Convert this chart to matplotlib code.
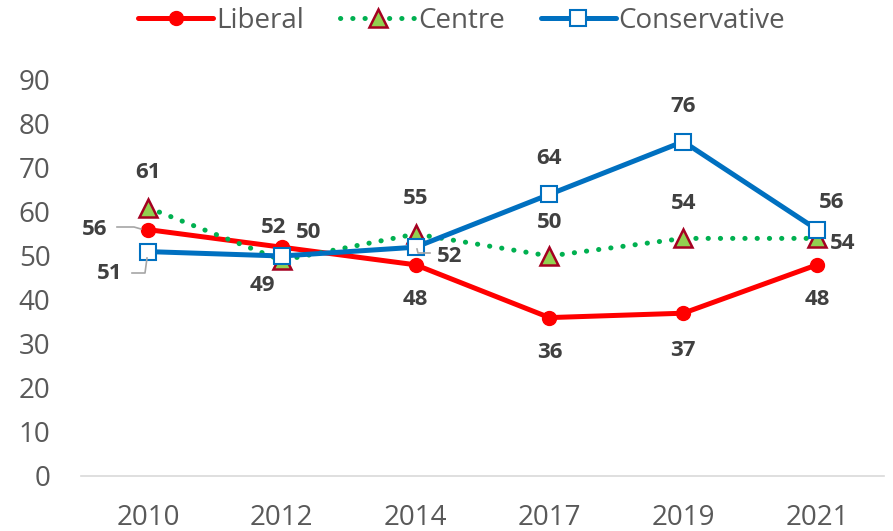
import matplotlib
matplotlib.use("Agg")
import matplotlib.pyplot as plt
from matplotlib.lines import Line2D

years = ["2010", "2012", "2014", "2017", "2019", "2021"]
liberal = [56, 52, 48, 36, 37, 48]
centre = [61, 49, 55, 50, 54, 54]
conservative = [51, 50, 52, 64, 76, 56]
yticks = [0, 10, 20, 30, 40, 50, 60, 70, 80, 90]

plt.rcParams['font.family'] = ['Open Sans', 'DejaVu Sans']

fig = plt.figure(figsize=(8.93, 5.31), dpi=100)
ax = fig.add_axes([81/893, 55/531, 803/893, 396/531])
x = list(range(len(years)))

RED = '#ff0000'
GREEN = '#00b050'
BLUE = '#0070c0'

l1, = ax.plot(x, liberal, color=RED, lw=3.6, marker='o', markersize=10,
              markerfacecolor=RED, markeredgecolor=RED, zorder=3,
              solid_capstyle='round')
l2, = ax.plot(x, centre, color=GREEN, lw=3.6, linestyle=(0, (0.05, 2.4)),
              dash_capstyle='round', marker='^', markersize=13,
              markerfacecolor='#92d050', markeredgecolor='#a50021',
              markeredgewidth=1.8, zorder=4)
l3, = ax.plot(x, conservative, color=BLUE, lw=3.6, marker='s', markersize=11,
              markerfacecolor='white', markeredgecolor=BLUE,
              markeredgewidth=1.5, zorder=5, solid_capstyle='round')

ax.set_xlim(-0.5, 5.5)
ax.set_ylim(0, 90)
ax.set_yticks(yticks)
ax.set_xticks(x)
ax.set_xticklabels(years)
ax.tick_params(length=0, labelsize=20, colors='#595959')
ax.tick_params(axis='x', pad=20)
ax.tick_params(axis='y', pad=22)
for s in ['left', 'right', 'top']:
    ax.spines[s].set_visible(False)
ax.spines['bottom'].set_color('#d9d9d9')
ax.spines['bottom'].set_linewidth(1.2)

lab_style = dict(fontsize=16, fontweight='bold', color='#404040',
                 ha='center', va='center', textcoords='offset pixels', zorder=6)

lib_off = [(-53, 0), (-8, 20), (0, -35), (0, -35), (0, -37), (0, -35)]
cen_off = [(0, 35), (-19, -25), (0, 36), (0, 34), (0, 35), (26, -5)]
con_off = [(-38, -22), (27, 24), (34, -9), (0, 36), (0, 35), (15, 27)]

for i in x:
    ax.annotate(str(liberal[i]), (i, liberal[i]), xytext=lib_off[i], **lab_style)
    ax.annotate(str(centre[i]), (i, centre[i]), xytext=cen_off[i], **lab_style)
    ax.annotate(str(conservative[i]), (i, conservative[i]), xytext=con_off[i], **lab_style)

# leader lines (pixel-based)
def pix_line(pts):
    inv = fig.transFigure.inverted()
    fpts = [inv.transform((px, 531 - py)) for px, py in pts]
    fig.add_artist(Line2D([p[0] for p in fpts], [p[1] for p in fpts],
                          color='#a6a6a6', lw=1.2, zorder=2))

pix_line([(117, 227), (134, 227), (141, 229)])
pix_line([(132, 273), (145, 273), (147, 258)])
pix_line([(417, 249), (418, 253), (430, 253)])

fig.legend([l1, l2, l3], ['Liberal', 'Centre', 'Conservative'],
           loc='upper center', bbox_to_anchor=(0.517, 1.034), ncol=3,
           frameon=False, fontsize=20, labelcolor='#595959',
           handlelength=2.7, handletextpad=0.1, columnspacing=1.3)

fig.savefig('out.png', dpi=100)
